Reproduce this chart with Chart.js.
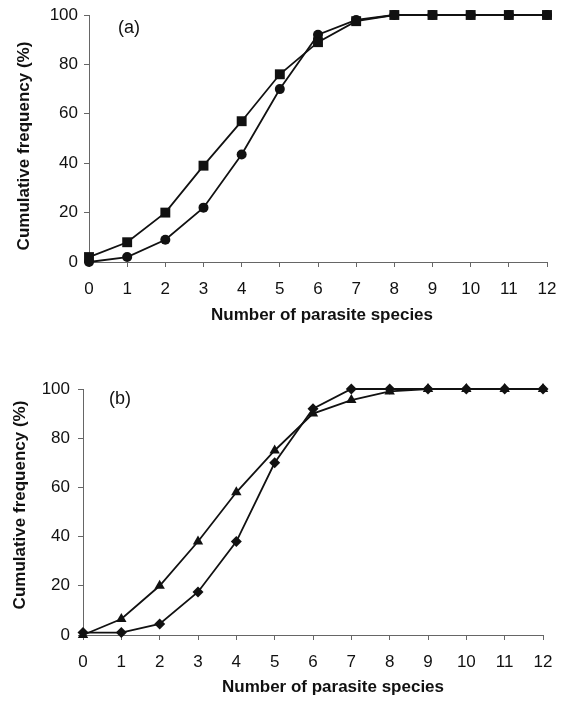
<!DOCTYPE html>
<html>
<head>
<meta charset="utf-8">
<script src="https://cdn.jsdelivr.net/npm/chart.js@4.4.0/dist/chart.umd.min.js"></script>
<style>
  html, body { margin: 0; padding: 0; background: #fff; }
  .panel { position: absolute; left: 0; width: 565px; }
  #panelA { top: 0; height: 340px; }
  #panelB { top: 350px; height: 352px; }
</style>
</head>
<body>
<div class="panel" id="panelA"><canvas id="chartA"></canvas></div>
<div class="panel" id="panelB"><canvas id="chartB"></canvas></div>
<script>
// number of parasite species (x categories)
const species = ["0", "1", "2", "3", "4", "5", "6", "7", "8", "9", "10", "11", "12"];

// panel (a)
const aSquares = [2, 8, 20, 39, 57, 76, 89, 97.5, 100, 100, 100, 100, 100];
const aCircles = [0, 2, 9, 22, 43.5, 70, 92, 98, 100, 100, 100, 100, 100];

// panel (b)
const bTriangles = [0, 6.5, 20, 38, 58, 75, 90, 95.5, 99, 100, 100, 100, 100];
const bDiamonds = [1, 1, 4.5, 17.5, 38, 70, 92, 100, 100, 100, 100, 100, 100];

const xTitle = "Number of parasite species";
const yTitle = "Cumulative frequency (%)";

const ink = "#111";
const axisInk = "#666";
const tickFont = { family: "'Liberation Sans', Arial, sans-serif", size: 17 };
const titleFont = "bold 17px 'Liberation Sans Narrow', 'Arial Narrow', 'Liberation Sans', sans-serif";

// panel tag and axis titles, placed where the original has them
const panelText = {
  id: "panelText",
  afterDraw(chart, args, opts) {
    const { ctx, chartArea } = chart;
    ctx.save();
    ctx.fillStyle = ink;
    ctx.textAlign = "center";
    ctx.textBaseline = "middle";
    ctx.font = "18px 'Liberation Sans', Arial, sans-serif";
    ctx.fillText(opts.tag, chartArea.left + opts.tagDx, chartArea.top + opts.tagDy);
    ctx.font = titleFont;
    ctx.fillText(xTitle, opts.xTitleAt[0], opts.xTitleAt[1]);
    ctx.translate(opts.yTitleAt[0], opts.yTitleAt[1]);
    ctx.rotate(-Math.PI / 2);
    ctx.fillText(yTitle, 0, 0);
    ctx.restore();
  }
};

function series(values, marker, radius) {
  return {
    data: values,
    borderColor: ink,
    backgroundColor: ink,
    borderWidth: 1.8,
    pointStyle: marker,
    pointRadius: radius,
    pointBorderWidth: 0,
    pointBackgroundColor: ink,
    tension: 0,
    clip: false
  };
}

function makePanel(id, datasets, box) {
  new Chart(document.getElementById(id), {
    type: "line",
    data: { labels: species, datasets: datasets },
    options: {
      responsive: true,
      maintainAspectRatio: false,
      animation: false,
      layout: { padding: { top: box.top, right: box.right, left: 0, bottom: 0 } },
      plugins: {
        legend: { display: false },
        tooltip: { enabled: false },
        panelText: box.text
      },
      scales: {
        x: {
          grid: { drawOnChartArea: false, color: axisInk, tickLength: 5 },
          border: { color: axisInk },
          ticks: { color: ink, font: tickFont, padding: box.xTickPad, maxRotation: 0, autoSkip: false },
          afterFit: (s) => {
            s.height = box.xh;
            s.paddingLeft = 0;
            s.paddingRight = 0;
          }
        },
        y: {
          min: 0,
          max: 100,
          ticks: { stepSize: 20, color: ink, font: tickFont, padding: box.yTickPad },
          grid: { drawOnChartArea: false, color: axisInk, tickLength: 5 },
          border: { color: axisInk },
          afterFit: (s) => {
            s.width = box.yw;
            s.paddingTop = 0;
            s.paddingBottom = 0;
          }
        }
      }
    },
    plugins: [panelText]
  });
}

makePanel("chartA", [
  series(aSquares, "rect", 7),
  series(aCircles, "circle", 5)
], {
  top: 15, right: 18, xh: 78, yw: 89, yTickPad: 6, xTickPad: 12,
  text: { tag: "(a)", tagDx: 40, tagDy: 13, xTitleAt: [322, 315], yTitleAt: [24, 146] }
});

makePanel("chartB", [
  series(bTriangles, "triangle", 6),
  series(bDiamonds, "rectRot", 5.5)
], {
  top: 39, right: 22, xh: 67, yw: 83, yTickPad: 8, xTickPad: 12,
  text: { tag: "(b)", tagDx: 37, tagDy: 10, xTitleAt: [333, 337], yTitleAt: [20, 155] }
});
</script>
</body>
</html>
